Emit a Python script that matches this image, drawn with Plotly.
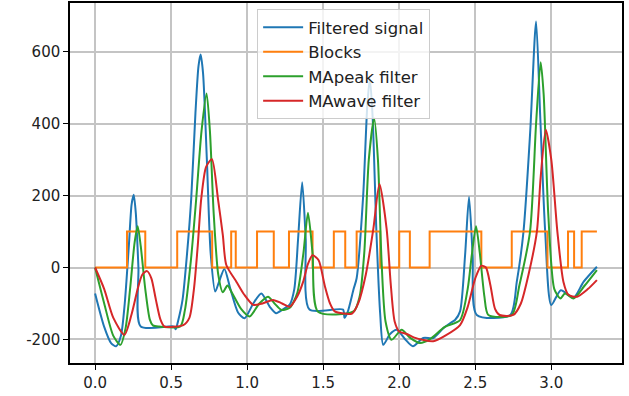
import plotly.graph_objects as go

# ---- data ----
blue_x = [0.000, 0.060, 0.105, 0.138, 0.170, 0.195, 0.222, 0.240, 0.254, 0.268, 0.285, 0.300,
          0.520, 0.530, 0.545, 0.575, 0.605, 0.632, 0.660, 0.680, 0.694, 0.710, 0.735, 0.760,
          0.790, 0.815, 0.850, 0.890, 0.940, 0.983, 1.040, 1.093, 1.150, 1.190, 1.240, 1.280,
          1.310, 1.335, 1.362, 1.385, 1.410, 1.630, 1.640, 1.660, 1.700, 1.720, 1.763, 1.790,
          1.807, 1.825, 1.850, 1.875, 1.895, 1.940, 1.983, 2.040, 2.090, 2.158, 2.224, 2.290,
          2.334, 2.367, 2.400, 2.433, 2.459, 2.483, 2.510, 2.730, 2.773, 2.817, 2.861, 2.900,
          2.927, 2.960, 3.000, 3.063, 3.146, 3.212, 3.300]
blue_y = [-72, -165, -210, -219, -190, -100, 60, 175, 202, 150, 0, -164,
          -164, -172, -150, -90, 40, 191, 430, 560, 592, 540, 300, 40,
          -67, -40, -4, -60, -125, -141, -100, -72, -110, -127, -115, -103,
          -60, 80, 237, 80, -117, -117, -140, -125, -60, -30, 200, 450,
          525, 420, 100, -130, -215, -185, -173, -200, -219, -196, -196, -169,
          -155, -146, -122, 34, 196, 34, -132, -132, -40, 99, 375, 684,
          422, 99, -104, -63, -84, -40, 2]

blocks_x = [0.0, 0.21, 0.33, 0.54, 0.77, 0.895, 0.925, 1.065, 1.175, 1.275, 1.43, 1.57,
            1.645, 1.72, 1.875, 2.0, 2.07, 2.2, 2.54, 2.74, 2.975, 3.11, 3.15, 3.2, 3.3]
blocks_y = [0, 100, 0, 100, 0, 100, 0, 100, 0, 100, 0, 100,
            0, 100, 0, 100, 0, 100, 0, 100, 0, 100, 0, 100, 100]

green_x = [0.000, 0.060, 0.120, 0.167, 0.200, 0.230, 0.260, 0.280, 0.300, 0.330, 0.360, 0.380,
           0.420, 0.560, 0.590, 0.630, 0.665, 0.700, 0.733, 0.755, 0.780, 0.810, 0.840, 0.870,
           0.900, 0.960, 1.016, 1.080, 1.137, 1.180, 1.225, 1.280, 1.330, 1.370, 1.400, 1.430,
           1.466, 1.700, 1.740, 1.770, 1.800, 1.835, 1.860, 1.884, 1.910, 1.950, 2.016, 2.070,
           2.136, 2.200, 2.300, 2.400, 2.450, 2.477, 2.505, 2.530, 2.560, 2.586, 2.740, 2.790,
           2.860, 2.900, 2.930, 2.950, 2.980, 3.020, 3.060, 3.090, 3.146, 3.220, 3.300]
green_y = [0, -100, -190, -215, -170, -60, 70, 115, 60, -60, -145, -161,
           -164, -164, -120, 20, 191, 380, 484, 380, 150, -20, -69, -50,
           -70, -115, -136, -100, -81, -100, -118, -112, -70, 40, 152, 40,
           -123, -122, -80, 40, 300, 415, 300, 16, -150, -201, -173, -195,
           -210, -200, -165, -146, -60, 34, 115, 40, -80, -132, -132, -50,
           99, 400, 571, 480, 150, -60, -86, -72, -86, -50, -7]

red_x = [0.000, 0.060, 0.120, 0.193, 0.240, 0.280, 0.310, 0.342, 0.370, 0.400, 0.430, 0.456,
         0.580, 0.620, 0.650, 0.675, 0.698, 0.730, 0.768, 0.808, 0.840, 0.863, 0.930, 0.980,
         1.040, 1.100, 1.170, 1.230, 1.280, 1.330, 1.368, 1.400, 1.430, 1.470, 1.510, 1.545,
         1.576, 1.690, 1.730, 1.780, 1.830, 1.870, 1.917, 1.945, 1.970, 2.000, 2.050, 2.100,
         2.224, 2.300, 2.400, 2.450, 2.500, 2.540, 2.570, 2.600, 2.630, 2.660, 2.750, 2.800,
         2.850, 2.905, 2.930, 2.964, 3.000, 3.040, 3.080, 3.113, 3.170, 3.240, 3.300]
red_y = [0, -60, -140, -187, -130, -60, -20, -10, -30, -90, -145, -164,
         -160, -140, -60, 60, 191, 280, 301, 191, 90, 7, -40, -75,
         -104, -100, -90, -100, -109, -80, -40, 10, 34, 20, -50, -100,
         -122, -128, -100, -20, 108, 232, 108, -50, -150, -178, -185, -195,
         -205, -190, -160, -110, -30, 5, 0, -50, -115, -132, -132, -100,
         -20, 99, 250, 383, 300, 100, -40, -76, -81, -60, -35]

y_ticks = [-200, 0, 200, 400, 600]
y_tick_labels = ["-200", "0", "200", "400", "600"]
x_ticks = [0.0, 0.5, 1.0, 1.5, 2.0, 2.5, 3.0]
x_tick_labels = ["0.0", "0.5", "1.0", "1.5", "2.0", "2.5", "3.0"]

FONT = "DejaVu Sans"
fig = go.Figure()
fig.add_trace(go.Scatter(x=blue_x, y=blue_y, mode="lines", name="Filtered signal",
                         line=dict(color="#1f77b4", width=2, shape="spline", smoothing=0.7)))
fig.add_trace(go.Scatter(x=blocks_x, y=blocks_y, mode="lines", name="Blocks",
                         line=dict(color="#ff7f0e", width=2, shape="hv")))
fig.add_trace(go.Scatter(x=green_x, y=green_y, mode="lines", name="MApeak filter",
                         line=dict(color="#2ca02c", width=2, shape="spline", smoothing=0.7)))
fig.add_trace(go.Scatter(x=red_x, y=red_y, mode="lines", name="MAwave filter",
                         line=dict(color="#d62728", width=2, shape="spline", smoothing=0.7)))

axis_common = dict(showline=True, linecolor="black", linewidth=1.5, mirror=True,
                   showgrid=True, gridcolor="#c4c4c4", gridwidth=1.5, zeroline=False,
                   ticks="outside", ticklen=5, tickwidth=1.2, tickcolor="black",
                   tickfont=dict(family=FONT, size=15, color="#222222"))
fig.update_xaxes(range=[-0.165, 3.465], tickvals=x_ticks, ticktext=x_tick_labels, **axis_common)
fig.update_yaxes(range=[-265.5, 735.5], tickvals=y_ticks, ticktext=y_tick_labels, **axis_common)

fig.update_layout(
    width=629, height=396,
    margin=dict(l=70, r=7, t=1, b=33),
    paper_bgcolor="white", plot_bgcolor="white",
    font=dict(family=FONT, size=15, color="#222222"),
    legend=dict(x=0.339, y=0.983, xanchor="left", yanchor="top", itemwidth=40,
                bgcolor="rgba(255,255,255,0.8)", bordercolor="#cccccc", borderwidth=1,
                font=dict(family=FONT, size=16.5, color="#222222")),
    showlegend=True,
)
fig.write_html("out.html", config={"displayModeBar": False},
               post_script="document.body.style.margin='0';")
